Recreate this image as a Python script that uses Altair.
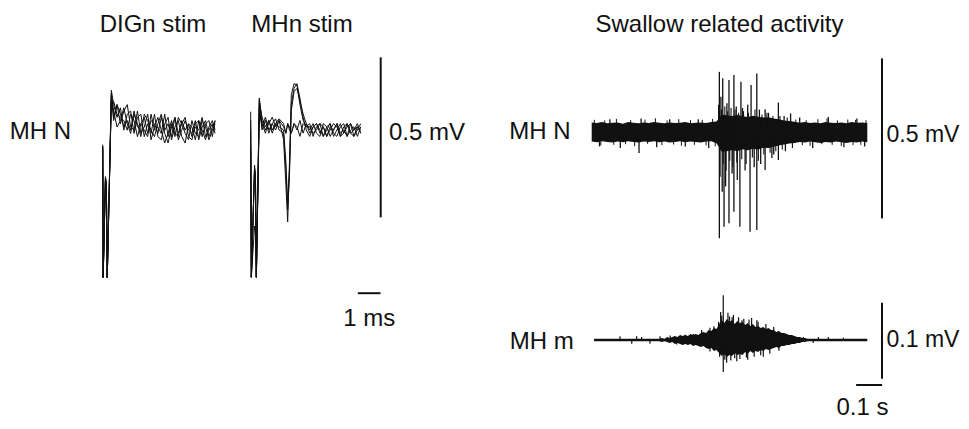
import altair as alt
import pandas as pd

# ---------------- DATA ----------------
# Panel "DIGn stim": time (ms) and five overlaid sweeps (mV); -0.60 = off-scale (clipped)
A_T = [0.12, 0.14, 0.24, 0.28, 0.32, 0.50,
       0.60, 0.75, 0.90, 1.05, 1.20, 1.35, 1.50, 1.65, 1.80, 1.95, 2.10, 2.25, 2.40, 2.55,
       2.70, 2.85, 3.00, 3.15, 3.30, 3.45, 3.60, 3.75, 3.90, 4.05, 4.20, 4.35, 4.50, 4.65,
       4.80, 4.95, 5.07]
A_SWEEPS = [
    [-0.060, -0.60, -0.160, -0.180, -0.60, 0.115,
     0.07, 0.03, 0.06, -0.01, 0.04, 0.05, -0.02, 0.03, 0.04, -0.03, 0.01, -0.02, 0.04, -0.03,
     -0.04, 0.01, 0.03, -0.04, 0.00, 0.02, -0.03, -0.05, 0.01, 0.00, -0.04, 0.02, -0.01, -0.04,
     0.00, 0.02, -0.01],
    [-0.065, -0.60, -0.170, -0.185, -0.60, 0.105,
     0.02, 0.07, 0.01, 0.05, 0.07, 0.00, -0.01, 0.05, -0.02, 0.00, 0.04, -0.04, 0.00, 0.03,
     -0.01, -0.05, -0.02, 0.02, -0.03, 0.03, 0.01, -0.02, -0.04, 0.02, -0.02, -0.03, 0.02, 0.00,
     -0.04, -0.01, 0.01],
    [-0.055, -0.60, -0.155, -0.175, -0.60, 0.095,
     0.05, 0.00, 0.02, 0.06, 0.01, -0.02, 0.04, 0.01, -0.03, 0.04, 0.02, -0.01, -0.03, 0.01,
     0.04, -0.02, -0.05, 0.00, 0.03, -0.02, 0.01, 0.03, -0.03, -0.04, 0.01, 0.02, -0.03, 0.01,
     0.02, -0.03, 0.02],
    [-0.070, -0.60, -0.165, -0.190, -0.60, 0.085,
     0.08, 0.04, 0.03, 0.02, -0.01, 0.04, 0.02, -0.03, 0.01, 0.03, -0.02, 0.02, 0.01, -0.02,
     0.03, -0.01, 0.01, -0.03, 0.03, -0.04, -0.01, 0.02, -0.01, -0.02, 0.02, -0.04, 0.00, 0.02,
     -0.03, 0.00, 0.02],
    [-0.060, -0.60, -0.160, -0.180, -0.60, 0.100,
     0.03, 0.07, 0.04, 0.00, 0.02, -0.01, 0.05, 0.00, 0.01, -0.01, -0.03, 0.04, -0.01, 0.00,
     -0.02, 0.04, -0.03, 0.01, -0.02, -0.03, 0.02, -0.01, 0.01, -0.03, 0.00, -0.01, 0.03, -0.03,
     -0.01, 0.01, -0.02],
]

# Panel "MHn stim": time (ms) and five overlaid sweeps (mV)
B_T = [0.25, 0.28, 0.42, 0.46, 0.50, 0.63,
       0.75, 0.90, 1.05, 1.20, 1.35, 1.50,
       1.70, 1.80, 1.88, 1.96, 2.04, 2.16, 2.29, 2.42, 2.56, 2.70,
       2.85, 3.00, 3.15, 3.30, 3.45, 3.60, 3.75, 3.90, 4.05, 4.20, 4.35, 4.50, 4.65, 4.80,
       4.95, 5.10]
B_SWEEPS = [
    [0.057, -0.60, -0.11, -0.14, -0.60, 0.10,
     0.03, 0.00, 0.02, 0.04, 0.01, 0.03,
     -0.03, -0.17, -0.287, -0.10, 0.11, 0.145, 0.14, 0.08, 0.03, 0.01,
     0.02, -0.02, 0.01, 0.02, -0.02, 0.00, 0.02, -0.01, -0.02, 0.01, 0.02, -0.02, 0.00, 0.01,
     -0.02, 0.01],
    [-0.068, -0.60, -0.30, -0.32, -0.60, 0.095,
     0.01, 0.04, 0.00, 0.02, 0.035, 0.00,
     -0.01, -0.12, -0.25, -0.14, 0.08, 0.13, 0.145, 0.10, 0.04, 0.00,
     -0.02, 0.01, 0.02, -0.01, 0.01, -0.02, 0.00, 0.02, 0.01, -0.02, -0.01, 0.02, -0.01, -0.02,
     0.01, 0.00],
    [0.030, -0.60, -0.12, -0.15, -0.60, 0.085,
     0.04, 0.01, 0.03, -0.01, 0.02, 0.01,
     0.00, -0.10, -0.23, -0.12, 0.06, 0.12, 0.13, 0.09, 0.05, 0.02,
     0.00, 0.02, -0.01, -0.02, 0.02, 0.01, -0.02, 0.00, 0.02, -0.01, 0.00, -0.02, 0.02, 0.00,
     0.01, -0.01],
    [-0.050, -0.60, -0.13, -0.16, -0.60, 0.05,
     0.02, -0.01, 0.03, 0.00, 0.02, 0.035,
     0.02, -0.01, 0.02, 0.00, -0.01, 0.02, 0.00, 0.03, -0.01, 0.02,
     -0.01, 0.01, 0.02, 0.00, -0.02, 0.01, 0.02, -0.02, 0.00, 0.02, -0.01, 0.01, 0.02, -0.02,
     0.00, 0.02],
    [0.000, -0.60, -0.12, -0.14, -0.60, 0.07,
     0.00, 0.03, -0.01, 0.02, 0.00, 0.03,
     0.01, -0.01, 0.02, 0.01, -0.01, 0.02, 0.01, -0.02, 0.02, 0.01,
     0.01, -0.01, 0.00, 0.02, 0.01, -0.02, 0.01, 0.00, 0.02, -0.02, 0.01, 0.02, -0.01, 0.00,
     0.02, -0.01],
]

# Swallow, MH N nerve: noise envelope (s, mV) and individual spikes
N_T = [0.00, 0.02, 0.04, 0.06, 0.08, 0.10, 0.12, 0.14, 0.16, 0.18, 0.20, 0.22, 0.24, 0.26,
       0.28, 0.30, 0.32, 0.34, 0.36, 0.38, 0.40, 0.42, 0.44, 0.46, 0.48, 0.50, 0.52, 0.54,
       0.56, 0.58, 0.60, 0.62, 0.64, 0.66, 0.68, 0.70, 0.72, 0.74, 0.76, 0.78, 0.80, 0.82,
       0.84, 0.86, 0.88, 0.90, 0.92, 0.94, 0.96, 0.98, 1.00, 1.02, 1.04, 1.06]
N_UP = [0.030, 0.028, 0.031, 0.027, 0.029, 0.030, 0.026, 0.031, 0.029, 0.027, 0.030, 0.028,
        0.031, 0.029, 0.027, 0.030, 0.028, 0.029, 0.031, 0.027, 0.029, 0.030, 0.028, 0.031,
        0.033, 0.055, 0.052, 0.050, 0.054, 0.049, 0.047, 0.051, 0.048, 0.045, 0.046, 0.042,
        0.040, 0.036, 0.034, 0.032, 0.029, 0.031, 0.028, 0.030, 0.027, 0.031, 0.029, 0.028,
        0.030, 0.027, 0.031, 0.029, 0.030, 0.028]
N_LO = [-0.030, -0.032, -0.029, -0.031, -0.033, -0.030, -0.032, -0.029, -0.031, -0.033, -0.030,
        -0.031, -0.029, -0.032, -0.030, -0.033, -0.031, -0.029, -0.032, -0.030, -0.031, -0.033,
        -0.030, -0.029, -0.035, -0.062, -0.060, -0.056, -0.060, -0.054, -0.057, -0.052, -0.055,
        -0.049, -0.050, -0.046, -0.042, -0.039, -0.036, -0.034, -0.031, -0.033, -0.030, -0.032,
        -0.034, -0.031, -0.033, -0.030, -0.032, -0.034, -0.031, -0.033, -0.030, -0.032]
N_SPK_T = [0.491, 0.491, 0.504, 0.502, 0.509, 0.528, 0.528, 0.547, 0.547, 0.570, 0.574, 0.609,
           0.613, 0.635, 0.635, 0.667, 0.667, 0.693, 0.718, 0.718, 0.765,
           0.497, 0.515, 0.520, 0.540, 0.556, 0.560, 0.580, 0.590, 0.600, 0.625, 0.645, 0.650,
           0.680, 0.700, 0.740, 0.745,
           0.03, 0.07, 0.11, 0.182, 0.19, 0.25, 0.30, 0.36, 0.41, 0.45, 0.80, 0.85, 0.91, 0.97,
           1.02, 1.05]
N_SPK_V = [0.188, -0.332, 0.168, -0.187, -0.296, 0.1625, -0.285, 0.178, -0.249, -0.296, 0.157,
           -0.312, 0.147, 0.183, -0.306, 0.071, -0.119, -0.081, 0.092, -0.0875, 0.058,
           0.11, -0.17, 0.09, -0.13, 0.08, -0.15, 0.075, -0.12, 0.085, -0.11, 0.07, -0.10,
           0.06, -0.07, 0.05, -0.06,
           -0.045, 0.04, -0.05, -0.066, 0.042, -0.048, 0.04, -0.045, 0.04, -0.05, 0.045, -0.05,
           0.047, -0.048, 0.042, -0.045]
# dense medium spikes inside the burst
N_BURST_T = [0.488, 0.494, 0.499, 0.506, 0.512, 0.517, 0.523, 0.531, 0.536, 0.543, 0.551, 0.558,
             0.565, 0.577, 0.584, 0.594, 0.603, 0.618, 0.628, 0.641, 0.655, 0.662, 0.674, 0.686,
             0.697, 0.708, 0.724, 0.733, 0.752, 0.772]
N_BURST_V = [0.085, -0.14, 0.07, -0.10, 0.08, -0.12, 0.065, -0.09, 0.075, -0.11, 0.07, -0.095,
             0.06, -0.085, 0.065, -0.10, 0.06, -0.08, 0.07, -0.09, 0.055, -0.07, 0.06, -0.065,
             0.05, -0.06, 0.05, -0.055, 0.045, -0.05]
# small spikes poking out of the baseline noise band
N_EDGE_T = [0.01, 0.035, 0.05, 0.085, 0.095, 0.13, 0.15, 0.165, 0.205, 0.215, 0.245, 0.27,
            0.29, 0.315, 0.335, 0.345, 0.38, 0.395, 0.425, 0.44, 0.465, 0.475, 0.785, 0.81,
            0.825, 0.84, 0.87, 0.885, 0.905, 0.925, 0.945, 0.96, 0.985, 1.005, 1.015, 1.035,
            1.055]
N_EDGE_V = [0.038, -0.042, 0.036, -0.040, 0.041, -0.038, 0.037, -0.044, 0.039, -0.037, 0.043,
            -0.041, 0.036, -0.039, 0.040, -0.043, 0.037, -0.040, 0.038, -0.042, 0.041, -0.045,
            0.039, -0.041, 0.037, -0.043, 0.040, -0.038, 0.042, -0.040, 0.036, -0.044, 0.039,
            -0.041, 0.038, -0.040, 0.037]

# Swallow, MH m muscle: flat baseline, burst envelope (s, mV) and spikes
M_SPAN_T = [0.009, 1.06]
M_SPAN_V = [0.0, 0.0]
M_T = [0.26, 0.27, 0.28, 0.29, 0.30, 0.31, 0.32, 0.33, 0.34, 0.35,
       0.36, 0.37, 0.38, 0.39, 0.40, 0.41, 0.42, 0.43, 0.44, 0.45,
       0.46, 0.47, 0.48, 0.49, 0.50, 0.51, 0.52, 0.53, 0.54, 0.55,
       0.56, 0.57, 0.58, 0.59, 0.60, 0.61, 0.62, 0.63, 0.64, 0.65,
       0.66, 0.67, 0.68, 0.69, 0.70, 0.71, 0.72, 0.73, 0.74, 0.75,
       0.76, 0.77, 0.78, 0.79, 0.80, 0.81, 0.82, 0.83, 0.84]
M_UP = [0.0013, 0.0026, 0.0013, 0.0039, 0.0026, 0.0039, 0.0053, 0.0039, 0.0066, 0.0053,
        0.0066, 0.0053, 0.0079, 0.0066, 0.0079, 0.0066, 0.0092, 0.0105, 0.0092, 0.0132,
        0.0118, 0.0158, 0.0145, 0.0211, 0.0263, 0.0224, 0.0276, 0.0237, 0.0263, 0.0211,
        0.0250, 0.0224, 0.0237, 0.0197, 0.0224, 0.0184, 0.0211, 0.0171, 0.0184, 0.0158,
        0.0171, 0.0145, 0.0158, 0.0132, 0.0132, 0.0105, 0.0118, 0.0092, 0.0092, 0.0079,
        0.0066, 0.0066, 0.0053, 0.0039, 0.0039, 0.0026, 0.0026, 0.0013, 0.0013]
M_LO = [-0.0013, -0.0026, -0.0013, -0.0026, -0.0039, -0.0026, -0.0053, -0.0039, -0.0053, -0.0066,
        -0.0053, -0.0066, -0.0053, -0.0079, -0.0066, -0.0079, -0.0092, -0.0079, -0.0105, -0.0118,
        -0.0105, -0.0145, -0.0132, -0.0171, -0.0211, -0.0184, -0.0224, -0.0197, -0.0211, -0.0171,
        -0.0197, -0.0184, -0.0197, -0.0158, -0.0184, -0.0145, -0.0171, -0.0145, -0.0158, -0.0132,
        -0.0145, -0.0118, -0.0132, -0.0118, -0.0105, -0.0092, -0.0105, -0.0079, -0.0079, -0.0066,
        -0.0066, -0.0053, -0.0053, -0.0039, -0.0039, -0.0026, -0.0026, -0.0013, -0.0013]
M_SPK_T = [0.506, 0.506, 0.496, 0.524, 0.519, 0.558, 0.615, 0.578, 0.540, 0.600, 0.640, 0.660,
           0.423, 0.455, 0.455, 0.470, 0.109, 0.154, 0.173, 0.192, 0.224, 0.263, 0.302, 0.327,
           0.359, 0.391, 0.814, 0.852, 0.872, 0.910, 0.968,
           0.488, 0.492, 0.500, 0.512, 0.530, 0.535, 0.545, 0.550, 0.565, 0.570, 0.585, 0.595,
           0.605, 0.625, 0.635, 0.650, 0.670, 0.685, 0.700, 0.720]
M_SPK_V = [0.059, -0.042, 0.037, 0.036, -0.030, -0.028, 0.029, 0.026, 0.030, -0.026, 0.024,
           -0.022, 0.013, 0.016, -0.015, 0.018, 0.005, -0.005, 0.005, 0.004, -0.005, 0.005,
           0.006, -0.006, 0.007, 0.008, 0.004, -0.004, 0.004, 0.004, 0.003,
           0.024, -0.022, 0.032, -0.026, 0.031, -0.027, 0.033, -0.024, 0.030, -0.025, 0.028,
           -0.023, 0.027, -0.022, 0.026, -0.020, 0.021, -0.018, 0.017, -0.014]

# Scale bars: anchor (time, voltage) and extent in data units
BAR_B_V = {"t": 5.978, "v0": -0.273, "len": 0.5}      # 0.5 mV
BAR_B_H = {"t0": 4.97, "v": -0.51, "len": 1.0}        # 1 ms
BAR_N_V = {"t": 1.1165, "v0": -0.27, "len": 0.5}      # 0.5 mV
BAR_M_V = {"t": 1.1165, "v0": -0.051, "len": 0.1}     # 0.1 mV
BAR_M_H = {"t0": 1.017, "v": -0.0592, "len": 0.1}     # 0.1 s

# Text labels, placed in each panel's data units
TXT_A = {"label": ["DIGn stim", "MH N"], "t": [2.335, -2.621], "v": [0.297, -0.0384]}
TXT_B = {"label": ["MHn stim", "0.5 mV", "1 ms"], "t": [2.511, 8.018, 5.471],
         "v": [0.306, -0.0328, -0.6125]}
TXT_N = {"label": ["Swallow related activity", "MH N"], "t": [0.4915, -0.1988],
         "v": [0.3125, -0.0234]}
TXT_N_EDGE = {"label": ["0.5 mV"], "t": [1.2742], "v": [-0.0297]}
TXT_M = {"label": ["MH m", "0.1 s"], "t": [-0.1923, 1.0415], "v": [-0.0122, -0.0993]}
TXT_M_EDGE = {"label": ["0.1 mV"], "t": [1.2742], "v": [-0.0092]}

# ---------------- LAYOUT (page px) ----------------
M0 = 8
FONT = "Liberation Sans"
FS = 24
FS_EDGE = 23
INK = "#111111"


def xs(base_px, per, d0, d1):
    return alt.Scale(domain=[d0, d1], range=[base_px - M0 + d0 * per, base_px - M0 + d1 * per],
                     nice=False, zero=False)


def ys(base_px, per, d0, d1, clamp=False):
    return alt.Scale(domain=[d0, d1], range=[base_px - M0 - d0 * per, base_px - M0 - d1 * per],
                     nice=False, zero=False, clamp=clamp)


XA = xs(100, 22.7, 0, 5.3)
YA_C = ys(127, 320, -0.47, 0.22, clamp=True)
YA = ys(127, 320, -0.47, 0.22)
XB = xs(245, 22.7, 0, 5.3)
YB_C = ys(130, 320, -0.46, 0.23, clamp=True)
YB = ys(130, 320, -0.46, 0.23)
XR = xs(591.7, 260, 0, 1.1)
YN = ys(132, 320, -0.35, 0.25)
YM = ys(340, 760, -0.09, 0.08)


def X(field, sc):
    return alt.X(field, type="quantitative", scale=sc, axis=None)


def Y(field, sc):
    return alt.Y(field, type="quantitative", scale=sc, axis=None)


def sweeps_df(T, sweeps):
    rows = []
    for i, s in enumerate(sweeps):
        for t, v in zip(T, s):
            rows.append({"sweep": i, "t": t, "v": v})
    return pd.DataFrame(rows)


def sweep_layer(df, xsc, ysc):
    return alt.Chart(df).mark_line(color=INK, strokeWidth=1.0).encode(
        x=X("t", xsc), y=Y("v", ysc), detail="sweep:N", order="t:Q")


def vbar(b, xsc, ysc):
    df = pd.DataFrame({"t": [b["t"]], "v0": [b["v0"]], "v1": [b["v0"] + b["len"]]})
    return alt.Chart(df).mark_rule(color=INK, strokeWidth=2).encode(
        x=X("t", xsc), y=Y("v0", ysc), y2="v1")


def hbar(b, xsc, ysc):
    df = pd.DataFrame({"t0": [b["t0"]], "t1": [b["t0"] + b["len"]], "v": [b["v"]]})
    return alt.Chart(df).mark_rule(color=INK, strokeWidth=2).encode(
        x=X("t0", xsc), x2="t1", y=Y("v", ysc))


def text_layer(d, xsc, ysc, fs=FS):
    return alt.Chart(pd.DataFrame(d)).mark_text(
        font=FONT, fontSize=fs, color=INK, align="center", baseline="alphabetic").encode(
        x=X("t", xsc), y=Y("v", ysc), text="label:N")


def band_layer(T, up, lo, xsc, ysc):
    df = pd.DataFrame({"t": T, "up": up, "lo": lo})
    return alt.Chart(df).mark_area(color=INK, opacity=1).encode(
        x=X("t", xsc), y=Y("up", ysc), y2="lo")


def spikes_layer(T, V, xsc, ysc, w):
    df = pd.DataFrame({"t": T, "v": V, "z": [0.0] * len(T)})
    return alt.Chart(df).mark_rule(color=INK, strokeWidth=w).encode(
        x=X("t", xsc), y=Y("v", ysc), y2="z")


layers = [
    sweep_layer(sweeps_df(A_T, A_SWEEPS), XA, YA_C),
    sweep_layer(sweeps_df(B_T, B_SWEEPS), XB, YB_C),
    band_layer(N_T, N_UP, N_LO, XR, YN),
    spikes_layer(N_EDGE_T, N_EDGE_V, XR, YN, 1.0),
    spikes_layer(N_BURST_T, N_BURST_V, XR, YN, 1.1),
    spikes_layer(N_SPK_T, N_SPK_V, XR, YN, 1.3),
    alt.Chart(pd.DataFrame({"t": M_SPAN_T, "v": M_SPAN_V})).mark_line(
        color=INK, strokeWidth=2.4).encode(x=X("t", XR), y=Y("v", YM)),
    band_layer(M_T, M_UP, M_LO, XR, YM),
    spikes_layer(M_SPK_T, M_SPK_V, XR, YM, 1.2),
    vbar(BAR_B_V, XB, YB),
    hbar(BAR_B_H, XB, YB),
    vbar(BAR_N_V, XR, YN),
    vbar(BAR_M_V, XR, YM),
    hbar(BAR_M_H, XR, YM),
    text_layer(TXT_A, XA, YA),
    text_layer(TXT_B, XB, YB),
    text_layer(TXT_N, XR, YN),
    text_layer(TXT_N_EDGE, XR, YN, FS_EDGE),
    text_layer(TXT_M, XR, YM),
    text_layer(TXT_M_EDGE, XR, YM, FS_EDGE),
]

chart = alt.layer(*layers).resolve_scale(x="independent", y="independent").properties(
    width=953, height=413, padding=0, autosize=alt.AutoSizeParams(type="none"),
    background="white").configure_view(stroke=None)

chart.save("out.html", embed_options={"renderer": "svg", "actions": False})
